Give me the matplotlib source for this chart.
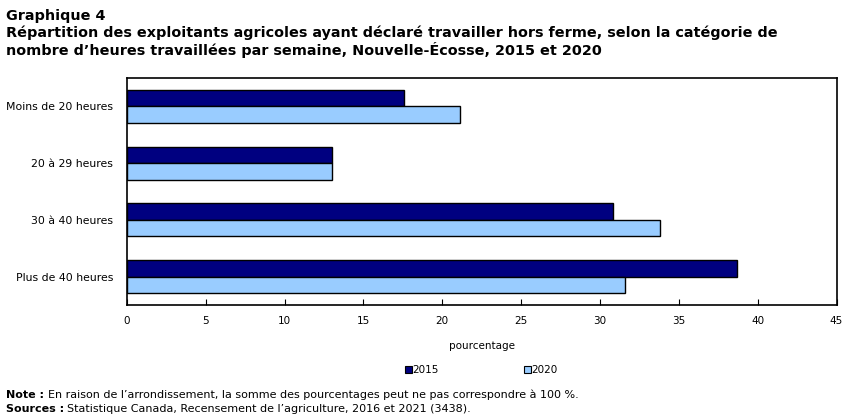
import matplotlib.pyplot as plt
import numpy as np
from matplotlib.patches import Patch

categories = ["Moins de 20 heures", "20 à 29 heures", "30 à 40 heures", "Plus de 40 heures"]
values_2015 = [17.6, 13.0, 30.8, 38.7]
values_2020 = [21.1, 13.0, 33.8, 31.6]
series_labels = ["2015", "2020"]
colors = ["#000080", "#99CCFF"]

plt.rcParams["font.family"] = ["Verdana", "DejaVu Sans"]

fig = plt.figure(figsize=(8.51, 4.20), dpi=100)
ax = fig.add_axes([0.149, 0.274, 0.834, 0.540])

y = np.arange(len(categories))
h = 0.29
ax.barh(y - h / 2, values_2015, height=h, color=colors[0], edgecolor="black", linewidth=1)
ax.barh(y + h / 2, values_2020, height=h, color=colors[1], edgecolor="black", linewidth=1)

ax.set_ylim(len(categories) - 0.5, -0.5)
ax.set_yticks(y)
ax.set_yticklabels(categories, fontsize=7.8)
ax.tick_params(axis="y", length=0, pad=10)
ax.set_xlim(0, 45)
ax.set_xticks(range(0, 46, 5))
ax.tick_params(axis="x", direction="in", length=4, labelsize=7.5, pad=8)
for s in ax.spines.values():
    s.set_linewidth(1.2)
ax.set_xlabel("pourcentage", fontsize=7.5, labelpad=11)

handles = [Patch(facecolor=c, edgecolor="black", linewidth=0.8) for c in colors]
fig.legend(handles, series_labels, loc="center", bbox_to_anchor=(0.566, 0.119), ncol=2,
           frameon=False, fontsize=7.5, handlelength=0.6, handleheight=0.6,
           handletextpad=0.1, columnspacing=8.2)

fig.text(0.007, 0.963, "Graphique 4", fontsize=10.4, fontweight="bold", va="center")
fig.text(0.007, 0.921, "Répartition des exploitants agricoles ayant déclaré travailler hors ferme, selon la catégorie de",
         fontsize=10.4, fontweight="bold", va="center")
fig.text(0.007, 0.880, "nombre d’heures travaillées par semaine, Nouvelle-Écosse, 2015 et 2020",
         fontsize=10.4, fontweight="bold", va="center")

fig.text(0.007, 0.060, "Note :", fontsize=8, fontweight="bold", va="center")
fig.text(0.056, 0.060, "En raison de l’arrondissement, la somme des pourcentages peut ne pas correspondre à 100 %.",
         fontsize=8, va="center")
fig.text(0.007, 0.027, "Sources :", fontsize=8, fontweight="bold", va="center")
fig.text(0.079, 0.027, "Statistique Canada, Recensement de l’agriculture, 2016 et 2021 (3438).",
         fontsize=8, va="center")

fig.savefig("out.png", dpi=100)
